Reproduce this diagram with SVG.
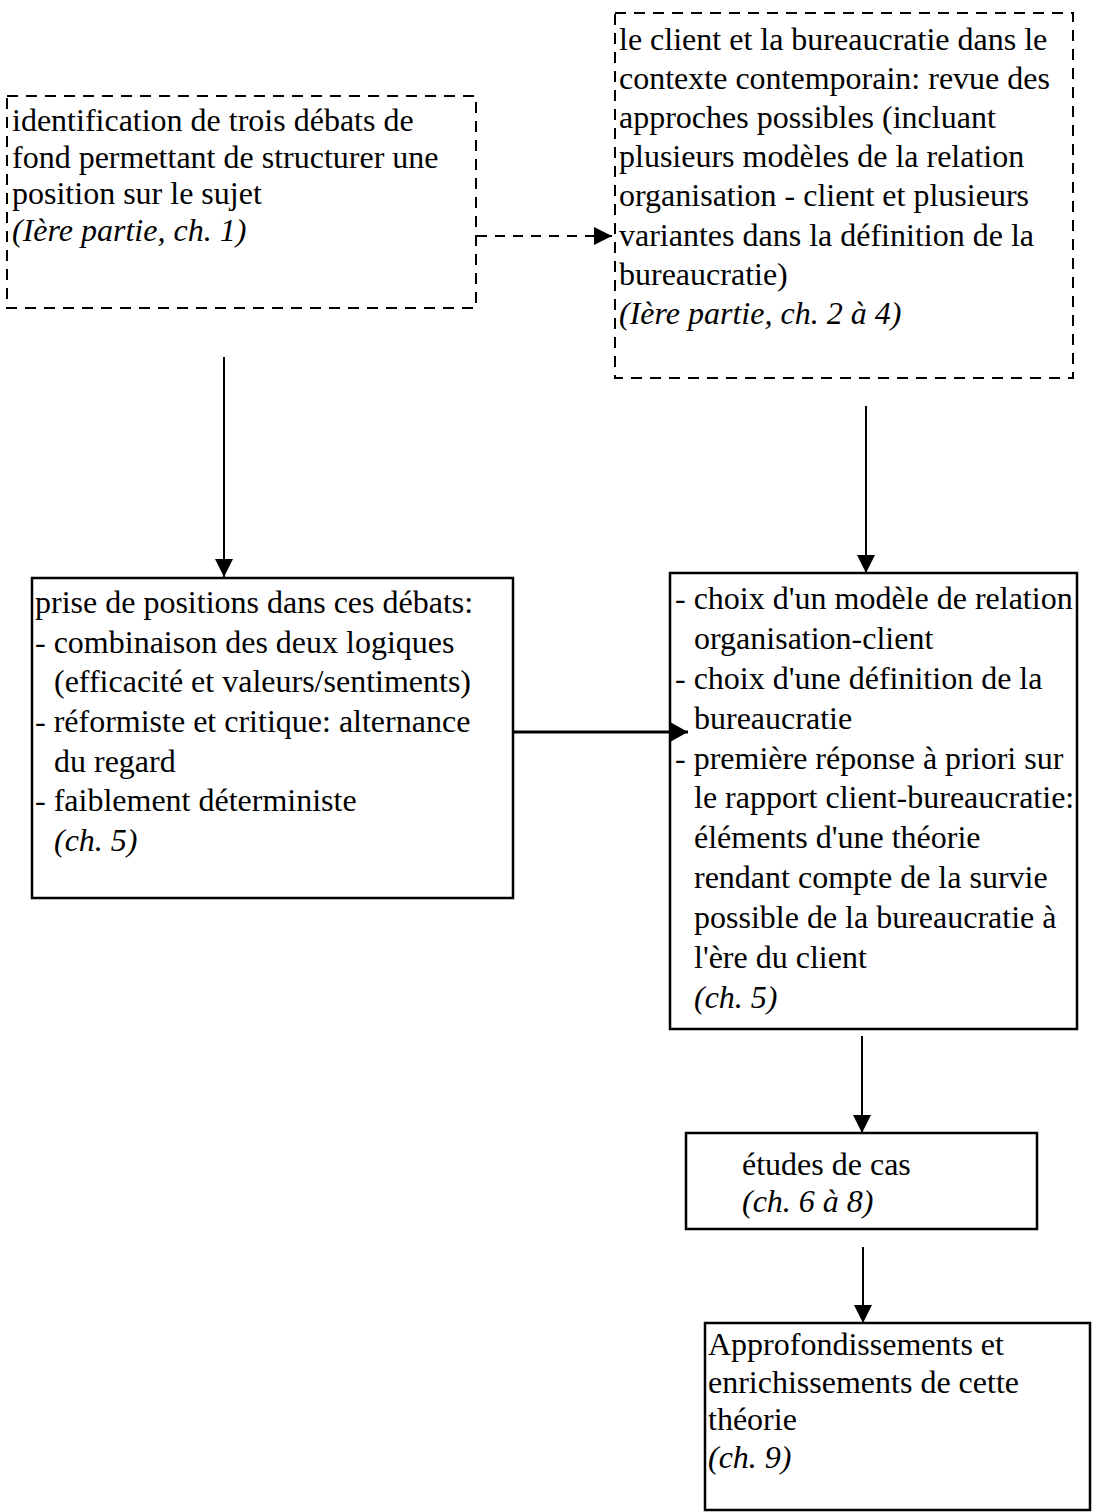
<svg xmlns="http://www.w3.org/2000/svg" width="1098" height="1512" viewBox="0 0 1098 1512">
<style>
  .bg { fill: #ffffff; }
  .dbox { fill: none; stroke: #000; stroke-width: 2; stroke-dasharray: 11 8; }
  .sbox { fill: none; stroke: #000; stroke-width: 2.5; }
  .t { font-family: "Liberation Serif", "Times New Roman", serif; font-size: 32px; fill: #000; }
  .i { font-style: italic; }
  .conn { fill: none; stroke: #000; stroke-width: 2; }
  .thick { stroke-width: 3; }
  .dconn { fill: none; stroke: #000; stroke-width: 2; stroke-dasharray: 10 8; }
</style>
<defs>
  <marker id="ah" viewBox="0 0 18 18" refX="18" refY="9" markerWidth="18" markerHeight="18" markerUnits="userSpaceOnUse" orient="auto">
    <path d="M0,0 L18,9 L0,18 z" fill="#000"/>
  </marker>
  <marker id="ahl" viewBox="0 0 18 20" refX="18" refY="10" markerWidth="18" markerHeight="20" markerUnits="userSpaceOnUse" orient="auto">
    <path d="M0,0 L18,10 L0,20 z" fill="#000"/>
  </marker>
</defs>
<rect class="bg" x="0" y="0" width="1098" height="1512"/>

<g id="connectors">
  <line class="dconn" x1="477" y1="236" x2="612" y2="236" marker-end="url(#ah)"/>
  <line class="conn" x1="224" y1="357" x2="224" y2="577" marker-end="url(#ah)"/>
  <line class="conn" x1="866" y1="406" x2="866" y2="573" marker-end="url(#ah)"/>
  <line class="conn thick" x1="513" y1="732" x2="688" y2="732" marker-end="url(#ahl)"/>
  <line class="conn" x1="862" y1="1036" x2="862" y2="1133" marker-end="url(#ah)"/>
  <line class="conn" x1="863" y1="1247" x2="863" y2="1323" marker-end="url(#ah)"/>
</g>

<g id="node-identification">
  <rect class="dbox" x="7" y="96" width="469" height="212"/>
  <text class="t" x="12" y="131">identification de trois débats de</text>
  <text class="t" x="12" y="168">fond permettant de structurer une</text>
  <text class="t" x="12" y="204">position sur le sujet</text>
  <text class="t i" x="12" y="241">(Ière partie, ch. 1)</text>
</g>

<g id="node-contexte">
  <rect class="dbox" x="615" y="13" width="458" height="365"/>
  <text class="t" x="619" y="50">le client et la bureaucratie dans le</text>
  <text class="t" x="619" y="89">contexte contemporain: revue des</text>
  <text class="t" x="619" y="128">approches possibles (incluant</text>
  <text class="t" x="619" y="167">plusieurs modèles de la relation</text>
  <text class="t" x="619" y="206">organisation - client et plusieurs</text>
  <text class="t" x="619" y="246">variantes dans la définition de la</text>
  <text class="t" x="619" y="285">bureaucratie)</text>
  <text class="t i" x="619" y="324">(Ière partie, ch. 2 à 4)</text>
</g>

<g id="node-positions">
  <rect class="sbox" x="32" y="578" width="481" height="320"/>
  <text class="t" x="35" y="613">prise de positions dans ces débats:</text>
  <text class="t" x="35" y="653">- combinaison des deux logiques</text>
  <text class="t" x="54" y="692">(efficacité et valeurs/sentiments)</text>
  <text class="t" x="35" y="732">- réformiste et critique: alternance</text>
  <text class="t" x="54" y="772">du regard</text>
  <text class="t" x="35" y="811">- faiblement déterministe</text>
  <text class="t i" x="54" y="851">(ch. 5)</text>
</g>

<g id="node-choix">
  <rect class="sbox" x="670" y="573" width="407" height="456"/>
  <text class="t" x="675" y="609">- choix d'un modèle de relation</text>
  <text class="t" x="694" y="649">organisation-client</text>
  <text class="t" x="675" y="689">- choix d'une définition de la</text>
  <text class="t" x="694" y="729">bureaucratie</text>
  <text class="t" x="675" y="769">- première réponse à priori sur</text>
  <text class="t" x="694" y="808">le rapport client-bureaucratie:</text>
  <text class="t" x="694" y="848">éléments d'une théorie</text>
  <text class="t" x="694" y="888">rendant compte de la survie</text>
  <text class="t" x="694" y="928">possible de la bureaucratie à</text>
  <text class="t" x="694" y="968">l'ère du client</text>
  <text class="t i" x="694" y="1008">(ch. 5)</text>
</g>

<g id="node-etudes">
  <rect class="sbox" x="686" y="1133" width="351" height="96"/>
  <text class="t" x="742" y="1175">études de cas</text>
  <text class="t i" x="742" y="1212">(ch. 6 à 8)</text>
</g>

<g id="node-approfondissements">
  <rect class="sbox" x="705" y="1323" width="385" height="187"/>
  <text class="t" x="708" y="1355">Approfondissements et</text>
  <text class="t" x="708" y="1393">enrichissements de cette</text>
  <text class="t" x="708" y="1430">théorie</text>
  <text class="t i" x="708" y="1468">(ch. 9)</text>
</g>
</svg>
